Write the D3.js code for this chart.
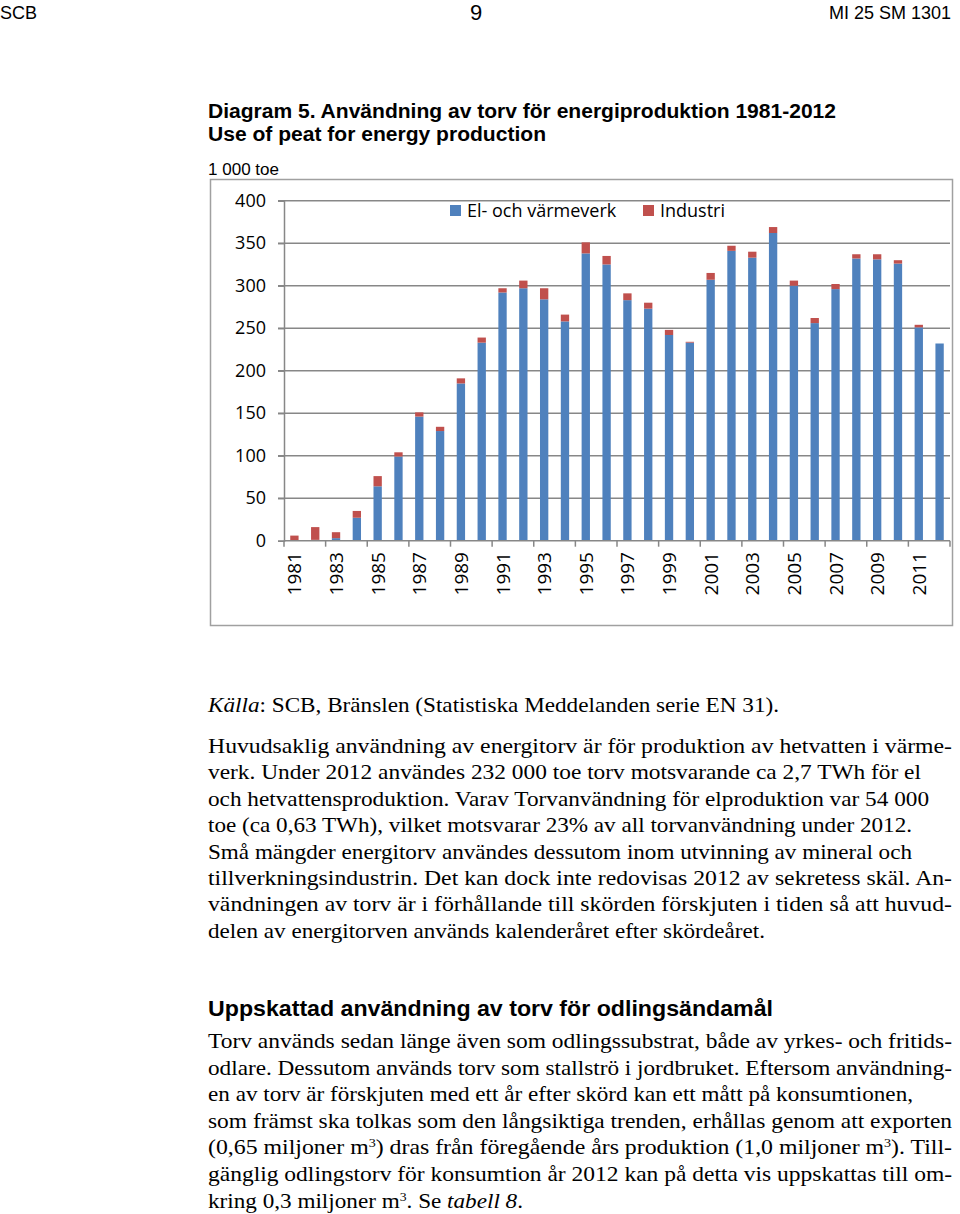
<!DOCTYPE html>
<html>
<head>
<meta charset="utf-8">
<script src="https://cdn.jsdelivr.net/npm/d3@7"></script>
<style>
  body { margin: 0; background: #fff; }
  svg { display: block; }
</style>
</head>
<body>
<div id="page"></div>
<script>
// data (1 000 toe)
var years = d3.range(1981, 2013).map(String);
var elVarme = [0, 1, 3, 27, 64, 99, 146, 129, 185, 233, 292, 297, 284, 258, 338, 325,
               283, 273, 242, 233, 307, 341, 333, 362, 300, 256, 296, 332, 331, 326, 251, 232];
var industri = [6, 15, 7, 8, 12, 5, 5, 5, 6, 6, 5, 9, 13, 8, 13, 10,
                8, 7, 6, 1, 8, 6, 7, 7, 6, 6, 6, 5, 6, 4, 3, 0];
var seriesNames = ["El- och värmeverk", "Industri"];
var colors = ["#4F81BD", "#C0504D"];
var yTicks = [0, 50, 100, 150, 200, 250, 300, 350, 400];

var svgWidth = 960;
var svgHeight = 1214;

var svg = d3.select("#page")
    .append("svg")
    .attr("width", svgWidth)
    .attr("height", svgHeight);

var sans = "'Liberation Sans', Arial, sans-serif";
var serif = "'Liberation Serif', 'Times New Roman', serif";
var chartFont = "'Open Sans', 'Noto Sans', sans-serif";

// page header
svg.append("text").attr("x", 0).attr("y", 19).attr("font-family", sans)
    .attr("font-size", "18px").text("SCB");
svg.append("text").attr("x", 476).attr("y", 20).attr("font-family", sans)
    .attr("text-anchor", "middle").attr("font-size", "22px").text("9");
svg.append("text").attr("x", 951).attr("y", 19).attr("font-family", sans)
    .attr("text-anchor", "end").attr("font-size", "18px").text("MI 25 SM 1301");

// chart titles
svg.append("text").attr("x", 208).attr("y", 118).attr("font-family", sans)
    .attr("font-size", "20px").style("font-weight", "bold")
    .attr("textLength", 628).attr("lengthAdjust", "spacingAndGlyphs")
    .text("Diagram 5. Användning av torv för energiproduktion 1981-2012");
svg.append("text").attr("x", 208).attr("y", 141).attr("font-family", sans)
    .attr("font-size", "20px").style("font-weight", "bold")
    .attr("textLength", 338).attr("lengthAdjust", "spacingAndGlyphs")
    .text("Use of peat for energy production");
svg.append("text").attr("x", 208).attr("y", 175).attr("font-family", sans)
    .attr("font-size", "16px")
    .attr("textLength", 71).attr("lengthAdjust", "spacingAndGlyphs")
    .text("1 000 toe");

// chart frame
svg.append("rect")
    .attr("x", 210.5).attr("y", 179.5)
    .attr("width", 742).attr("height", 446)
    .attr("fill", "none").attr("stroke", "#a0a0a0").attr("stroke-width", 1.5);

var plot = { left: 284, right: 950, top: 200.7, bottom: 540.7 };

var x = d3.scaleBand()
    .domain(years)
    .range([plot.left, plot.right])
    .paddingInner(0.6)
    .paddingOuter(0.3);

var y = d3.scaleLinear()
    .domain([0, 400])
    .range([plot.bottom, plot.top]);

// gridlines
svg.append("g")
    .selectAll("line")
    .data(yTicks.slice(1))
    .enter()
    .append("line")
    .attr("x1", plot.left - 6)
    .attr("x2", plot.right)
    .attr("y1", d => y(d))
    .attr("y2", d => y(d))
    .attr("stroke", "#878787")
    .attr("stroke-width", 1.5);

// y axis
var leftAxis = d3.axisLeft(y).tickValues(yTicks).tickSize(6).tickPadding(12);
var yAxisG = svg.append("g")
    .attr("transform", `translate(${plot.left}, 0)`)
    .call(leftAxis);
yAxisG.select(".domain").attr("stroke", "#878787").attr("stroke-width", 1.5);
yAxisG.selectAll(".tick line").attr("stroke", "#878787").attr("stroke-width", 1.5);
yAxisG.selectAll(".tick text")
    .attr("font-family", chartFont)
    .attr("font-size", "18px")
    .attr("fill", "#000");

// stacked bars
var table = years.map((yr, i) => ({ year: yr, el: elVarme[i], ind: industri[i] }));
var stacked = d3.stack().keys(["el", "ind"])(table);

svg.append("g")
    .selectAll("g")
    .data(stacked)
    .enter()
    .append("g")
    .attr("fill", (d, i) => colors[i])
    .selectAll("rect")
    .data(d => d)
    .enter()
    .append("rect")
    .attr("x", d => x(d.data.year))
    .attr("width", x.bandwidth())
    .attr("y", d => y(d[1]))
    .attr("height", d => y(d[0]) - y(d[1]));

// x axis line + ticks between categories (every 2nd)
var step = x.step();
svg.append("line")
    .attr("x1", plot.left).attr("x2", plot.right)
    .attr("y1", y(0)).attr("y2", y(0))
    .attr("stroke", "#878787").attr("stroke-width", 1.5);

svg.append("g")
    .selectAll("line")
    .data(d3.range(0, years.length + 1, 2))
    .enter()
    .append("line")
    .attr("x1", i => plot.left + i * step)
    .attr("x2", i => plot.left + i * step)
    .attr("y1", y(0))
    .attr("y2", y(0) + 6)
    .attr("stroke", "#878787")
    .attr("stroke-width", 1.5);

svg.append("g")
    .selectAll("text")
    .data(years.filter((d, i) => i % 2 === 0))
    .enter()
    .append("text")
    .attr("transform", d => `translate(${x(d) + x.bandwidth() / 2 + 7}, 552) rotate(-90)`)
    .attr("text-anchor", "end")
    .attr("font-family", chartFont)
    .attr("font-size", "19px")
    .text(d => d);

// legend
var legendX = [450, 643];
var legend = svg.append("g")
    .selectAll("g")
    .data(seriesNames)
    .enter()
    .append("g")
    .attr("transform", (d, i) => `translate(${legendX[i]}, 205)`);
legend.append("rect")
    .attr("width", 11).attr("height", 11)
    .attr("fill", (d, i) => colors[i]);
legend.append("text")
    .attr("x", 17).attr("y", 12)
    .attr("font-family", chartFont)
    .attr("font-size", "18px")
    .text(d => d);

// body text: each line set to the width it has in the reference
function textLine(yPos, parts, width) {
    var t = svg.append("text")
        .attr("x", 208).attr("y", yPos)
        .attr("font-family", serif)
        .attr("font-size", "22px")
        .attr("textLength", width)
        .attr("lengthAdjust", "spacingAndGlyphs");
    parts.forEach(function (p) {
        if (typeof p === "string") {
            t.append("tspan").text(p);
        } else {
            var s = t.append("tspan").text(p.t);
            if (p.i) s.style("font-style", "italic");
            if (p.sup) s.attr("font-size", "13px").attr("baseline-shift", "7px");
        }
    });
    return t;
}

textLine(712, [{ t: "Källa", i: true }, ": SCB, Bränslen (Statistiska Meddelanden serie EN 31)."], 571);

var para1 = [
    "Huvudsaklig användning av energitorv är för produktion av hetvatten i värme-",
    "verk. Under 2012 användes 232 000 toe torv  motsvarande ca 2,7 TWh för el",
    "och hetvattensproduktion. Varav Torvanvändning för elproduktion var 54 000",
    "toe (ca 0,63 TWh), vilket motsvarar 23% av all torvanvändning under 2012.",
    "Små mängder energitorv användes dessutom inom utvinning av mineral och",
    "tillverkningsindustrin. Det kan dock inte redovisas 2012 av sekretess skäl. An-",
    "vändningen av torv är i förhållande till skörden förskjuten i tiden så att huvud-",
    "delen av energitorven används kalenderåret efter skördeåret."
];
var p1Widths = [744, 713, 721, 704, 704, 744, 744, 557];
para1.forEach(function (l, i) {
    textLine(753 + i * 26.4, [l], p1Widths[i]);
});

svg.append("text")
    .attr("x", 208).attr("y", 1016)
    .attr("font-family", sans)
    .attr("font-size", "22px")
    .style("font-weight", "bold")
    .attr("textLength", 565).attr("lengthAdjust", "spacingAndGlyphs")
    .text("Uppskattad användning av torv för odlingsändamål");

var base2 = 1048;
textLine(base2, ["Torv används sedan länge även som odlingssubstrat, både av yrkes- och fritids-"], 744);
textLine(base2 + 26.6, ["odlare. Dessutom används torv som stallströ i jordbruket. Eftersom användning-"], 744);
textLine(base2 + 53.2, ["en av torv är förskjuten med ett år efter skörd kan ett mått på konsumtionen,"], 705);
textLine(base2 + 79.8, ["som främst ska tolkas som den långsiktiga trenden, erhållas genom att exporten"], 744);
textLine(base2 + 106.4, ["(0,65 miljoner m", { t: "3", sup: true }, ") dras från föregående års produktion (1,0 miljoner m",
    { t: "3", sup: true }, "). Till-"], 744);
textLine(base2 + 133, ["gänglig odlingstorv för konsumtion år 2012 kan på detta vis uppskattas till om-"], 744);
textLine(base2 + 159.6, ["kring 0,3 miljoner m", { t: "3", sup: true }, ". Se ", { t: "tabell 8", i: true }, "."], 315);
</script>
</body>
</html>
